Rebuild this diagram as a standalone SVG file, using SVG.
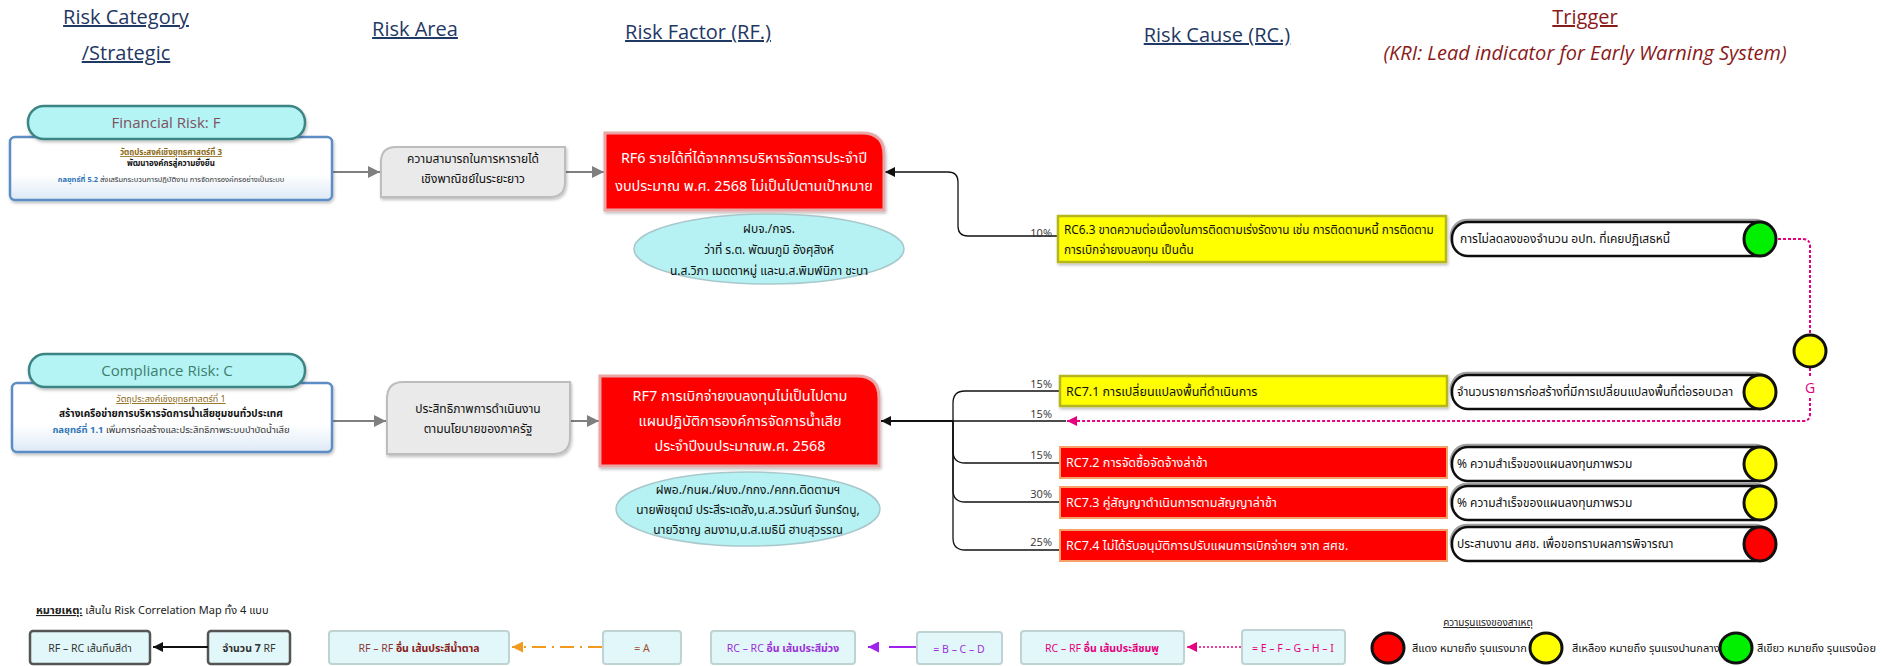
<svg xmlns="http://www.w3.org/2000/svg" width="1885" height="666" viewBox="0 0 1885 666">
<defs>
<style>
.hdr{font-family:'Open Sans','Noto Sans',sans-serif;font-size:20px;fill:#1F3864;text-decoration:underline;text-anchor:middle}
.th{font-family:'Noto Sans Thai',Tahoma,'Noto Sans','DejaVu Sans',sans-serif}
.pill{fill:#B4F4F4;stroke:#3E8585;stroke-width:2.5}
.cbox{fill:url(#cg);stroke:#5B8DC4;stroke-width:2.5}
.area{fill:#EAEAEA;stroke:#BDBDBD;stroke-width:2}
.rf{fill:#FF0000;stroke:#E9A6A6;stroke-width:3}
.ell{fill:#B6F1F3;stroke:#A8C8CC;stroke-width:1.5}
.rcy{fill:#FFFF00;stroke:#B5B51E;stroke-width:2.5}
.rcr{fill:#FF0000;stroke:#F4A26A;stroke-width:2}
.trg{fill:#FFFFFF;stroke:#111;stroke-width:2.5}
.dot{stroke:#111;stroke-width:3}
.lg{fill:#E2F7F9;stroke:#BFD3D3;stroke-width:2}
.lgd{fill:#E2F7F9;stroke:#555;stroke-width:2.5}
.con{fill:none;stroke:#111;stroke-width:1.3}
.gar{fill:none;stroke:#7F7F7F;stroke-width:2}
.pct{font-family:'Open Sans','Noto Sans',sans-serif;font-size:11px;fill:#333;text-anchor:end}
.wt{fill:#FFFFFF;font-size:14.4px;text-anchor:middle}
.rct{font-size:11.8px;fill:#111}
.rcw{font-size:12.6px;fill:#FFFFFF}
.tt{font-size:12px;fill:#111}
.ct{font-size:12px;fill:#111;text-anchor:middle}
</style>
<linearGradient id="cg" x1="0" y1="0" x2="0" y2="1"><stop offset="0.6" stop-color="#FFFFFF"/><stop offset="1" stop-color="#DDE9F6"/></linearGradient>
<marker id="ab" viewBox="0 0 10 10" refX="10" refY="5" markerWidth="10" markerHeight="10" markerUnits="userSpaceOnUse" orient="auto"><path d="M0,0 L10,5 L0,10 Z" fill="#111"/></marker>
<marker id="ag" viewBox="0 0 10 10" refX="10" refY="5" markerWidth="12" markerHeight="12" markerUnits="userSpaceOnUse" orient="auto"><path d="M0,0 L10,5 L0,10 Z" fill="#7F7F7F"/></marker>
<marker id="ap" viewBox="0 0 10 10" refX="10" refY="5" markerWidth="10" markerHeight="10" markerUnits="userSpaceOnUse" orient="auto"><path d="M0,0 L10,5 L0,10 Z" fill="#E6007E"/></marker>
<marker id="ao" viewBox="0 0 10 10" refX="10" refY="5" markerWidth="11" markerHeight="11" markerUnits="userSpaceOnUse" orient="auto"><path d="M0,0 L10,5 L0,10 Z" fill="#F09A1E"/></marker>
<marker id="av" viewBox="0 0 10 10" refX="10" refY="5" markerWidth="11" markerHeight="11" markerUnits="userSpaceOnUse" orient="auto"><path d="M0,0 L10,5 L0,10 Z" fill="#A020F0"/></marker>
<filter id="sh" x="-10%" y="-20%" width="120%" height="150%"><feDropShadow dx="1" dy="2" stdDeviation="1.5" flood-color="#000" flood-opacity="0.25"/></filter>
<filter id="ts" x="-5%" y="-20%" width="110%" height="140%"><feDropShadow dx="-1" dy="-2" stdDeviation="0.6" flood-color="#777" flood-opacity="0.7"/></filter>
</defs>
<rect width="1885" height="666" fill="#FFFFFF"/>

<g id="headers">
<text class="hdr" x="126" y="24">Risk Category</text>
<text class="hdr" x="126" y="60">/Strategic</text>
<text class="hdr" x="415" y="36">Risk Area</text>
<text class="hdr" x="698" y="39">Risk Factor (RF.)</text>
<text class="hdr" x="1217" y="42">Risk Cause (RC.)</text>
<text class="hdr" x="1585" y="24" style="fill:#8B1A1A">Trigger</text>
<text x="1585" y="60" style="font-family:'Open Sans','Noto Sans',sans-serif;font-size:20px;font-style:italic;fill:#8B1A1A;text-anchor:middle">(KRI: Lead indicator for Early Warning System)</text>
</g>

<g id="connectors">
<line class="gar" x1="332" y1="172" x2="380" y2="172" marker-end="url(#ag)"/>
<line class="gar" x1="566" y1="172" x2="604" y2="172" marker-end="url(#ag)"/>
<line class="gar" x1="332" y1="421" x2="386" y2="421" marker-end="url(#ag)"/>
<line class="gar" x1="571" y1="421" x2="599" y2="421" marker-end="url(#ag)"/>
<path class="con" d="M1058,236 H968 Q958,236 958,226 V182 Q958,172 948,172 H885" marker-end="url(#ab)"/>
<path class="con" d="M953,421 H881" marker-end="url(#ab)" style="stroke-width:1.8"/>
<path class="con" d="M1060,391 H965 Q953,391 953,403 V421"/>
<path class="con" d="M1066,421 H953"/>
<path class="con" d="M953,421 V451 Q953,463 965,463 H1060"/>
<path class="con" d="M953,421 V490 Q953,502 965,502 H1060"/>
<path class="con" d="M953,421 V538 Q953,550 965,550 H1060"/>
<text class="pct" x="1052" y="237">10%</text>
<text class="pct" x="1052" y="388">15%</text>
<text class="pct" x="1052" y="418">15%</text>
<text class="pct" x="1052" y="459">15%</text>
<text class="pct" x="1052" y="498">30%</text>
<text class="pct" x="1052" y="546">25%</text>
<g fill="none" stroke="#E6007E" stroke-width="2" stroke-dasharray="3 2">
<path d="M1778,239 H1803 Q1810,239 1810,246 V334"/>
<path d="M1810,368 V377"/>
<path d="M1810,398 V414 Q1810,421 1803,421 H1067" marker-end="url(#ap)"/>
</g>
<ellipse class="dot" cx="1810" cy="351" rx="16" ry="16" fill="#FFFF00"/>
<text x="1810" y="393" style="font-family:'Open Sans','Noto Sans',sans-serif;font-size:14px;fill:#E6007E;text-anchor:middle">G</text>
</g>

<g id="cat-financial">
<rect class="cbox" x="10" y="137" width="322" height="63" rx="5" filter="url(#sh)"/>
<rect class="pill" x="28" y="106" width="277" height="33" rx="16" filter="url(#sh)"/>
<text x="166" y="128" style="font-family:'Open Sans','Noto Sans',sans-serif;font-size:15px;fill:#7E5060;text-anchor:middle">Financial Risk: F</text>
<text class="th" x="171" y="155" style="font-size:8px;fill:#8B6914;text-anchor:middle;text-decoration:underline;font-weight:bold">วัตถุประสงค์เชิงยุทธศาสตร์ที่ 3</text>
<text class="th" x="171" y="166" style="font-size:8px;fill:#111;text-anchor:middle;font-weight:bold">พัฒนาองค์กรสู่ความยั่งยืน</text>
<text class="th" x="171" y="182" style="font-size:7.5px;fill:#333;text-anchor:middle"><tspan fill="#2E75B6" font-weight="bold">กลยุทธ์ที่ 5.2</tspan> ส่งเสริมกระบวนการปฏิบัติงาน การจัดการองค์กรอย่างเป็นระบบ</text>
</g>

<g id="cat-compliance">
<rect class="cbox" x="12" y="383" width="320" height="69" rx="5" filter="url(#sh)"/>
<rect class="pill" x="29" y="354" width="276" height="33" rx="16" filter="url(#sh)"/>
<text x="167" y="376" style="font-family:'Open Sans','Noto Sans',sans-serif;font-size:15px;fill:#3E7E6E;text-anchor:middle">Compliance Risk: C</text>
<text class="th" x="171" y="402" style="font-size:9px;fill:#8B6914;text-anchor:middle;text-decoration:underline">วัตถุประสงค์เชิงยุทธศาสตร์ที่ 1</text>
<text class="th" x="171" y="417" style="font-size:10px;fill:#111;text-anchor:middle;font-weight:bold">สร้างเครือข่ายการบริหารจัดการน้ำเสียชุมชนทั่วประเทศ</text>
<text class="th" x="171" y="433" style="font-size:9.5px;fill:#333;text-anchor:middle"><tspan fill="#2E75B6" font-weight="bold">กลยุทธ์ที่ 1.1</tspan> เพิ่มการก่อสร้างและประสิทธิภาพระบบบำบัดน้ำเสีย</text>
</g>

<g id="area-1">
<path class="area" d="M396,147 H565 V182 Q565,197 550,197 H381 V162 Q381,147 396,147 Z" filter="url(#sh)"/>
<text class="th ct" x="473" y="163">ความสามารถในการหารายได้</text>
<text class="th ct" x="473" y="183">เชิงพาณิชย์ในระยะยาว</text>
</g>

<g id="area-2">
<path class="area" d="M403,382 H570 V437 Q570,454 553,454 H387 V399 Q387,382 403,382 Z" filter="url(#sh)"/>
<text class="th ct" x="478" y="413">ประสิทธิภาพการดำเนินงาน</text>
<text class="th ct" x="478" y="433">ตามนโยบายของภาครัฐ</text>
</g>

<g id="rf6">
<path class="rf" d="M605,133 H862 Q884,133 884,155 V210 H605 Z" filter="url(#sh)"/>
<text class="th wt" x="744" y="163">RF6 รายได้ที่ได้จากการบริหารจัดการประจำปี</text>
<text class="th wt" x="744" y="191">งบประมาณ พ.ศ. 2568 ไม่เป็นไปตามเป้าหมาย</text>
</g>

<g id="rf6-owner">
<ellipse class="ell" cx="769" cy="249" rx="135" ry="35"/>
<text class="th ct" x="769" y="233">ฝบจ./กจร.</text>
<text class="th ct" x="769" y="254">ว่าที่ ร.ต. พัฒนภูมิ อังศุสิงห์</text>
<text class="th ct" x="769" y="275">น.ส.วิภา เมตตาหมู่ และน.ส.พิมพ์นิภา ชะบา</text>
</g>

<g id="rf7">
<path class="rf" d="M600,376 H857 Q879,376 879,398 V466 H600 Z" filter="url(#sh)"/>
<text class="th wt" x="740" y="401">RF7 การเบิกจ่ายงบลงทุนไม่เป็นไปตาม</text>
<text class="th wt" x="740" y="426">แผนปฏิบัติการองค์การจัดการน้ำเสีย</text>
<text class="th wt" x="740" y="451">ประจำปีงบประมาณพ.ศ. 2568</text>
</g>

<g id="rf7-owner">
<ellipse class="ell" cx="748" cy="509" rx="132" ry="37"/>
<text class="th ct" x="748" y="494">ฝพอ./กนผ./ฝบง./กกง./คกก.ติดตามฯ</text>
<text class="th ct" x="748" y="514">นายพิชยุตม์ ประสีระเตสัง,น.ส.วรนันท์ จันทร์ดนู,</text>
<text class="th ct" x="748" y="534">นายวิชาญ ลมงาม,น.ส.เมธินี ฮาบสุวรรณ</text>
</g>

<g id="rc6-3">
<rect class="rcy" x="1058" y="216" width="388" height="46" filter="url(#sh)"/>
<text class="th rct" x="1064" y="234">RC6.3 ขาดความต่อเนื่องในการติดตามเร่งรัดงาน เช่น การติดตามหนี้ การติดตาม</text>
<text class="th rct" x="1064" y="254">การเบิกจ่ายงบลงทุน เป็นต้น</text>
</g>
<g id="rc7-1">
<rect class="rcy" x="1060" y="376" width="387" height="30" filter="url(#sh)"/>
<text class="th" x="1066" y="396" style="font-size:12.5px;fill:#111">RC7.1 การเปลี่ยนแปลงพื้นที่ดำเนินการ</text>
</g>
<g id="rc7-2">
<rect class="rcr" x="1060" y="447" width="387" height="31"/>
<text class="th rcw" x="1066" y="467">RC7.2 การจัดซื้อจัดจ้างล่าช้า</text>
</g>
<g id="rc7-3">
<rect class="rcr" x="1060" y="487" width="387" height="31"/>
<text class="th rcw" x="1066" y="507">RC7.3 คู่สัญญาดำเนินการตามสัญญาล่าช้า</text>
</g>
<g id="rc7-4">
<rect class="rcr" x="1060" y="530" width="387" height="31"/>
<text class="th rcw" x="1066" y="550">RC7.4 ไม่ได้รับอนุมัติการปรับแผนการเบิกจ่ายฯ จาก สศช.</text>
</g>

<g id="trigger-1">
<rect class="trg" x="1452" y="222" width="320" height="34" rx="16" filter="url(#ts)"/>
<text class="th tt" x="1460" y="243">การไม่ลดลงของจำนวน อปท. ที่เคยปฏิเสธหนี้</text>
<ellipse class="dot" cx="1760" cy="239" rx="16" ry="17" fill="#00F000"/>
</g>
<g id="trigger-2">
<rect class="trg" x="1452" y="375" width="320" height="34" rx="16" filter="url(#ts)"/>
<text class="th tt" x="1457" y="396">จำนวนรายการก่อสร้างที่มีการเปลี่ยนแปลงพื้นที่ต่อรอบเวลา</text>
<ellipse class="dot" cx="1760" cy="392" rx="16" ry="17" fill="#FFFF00"/>
</g>
<g id="trigger-3">
<rect class="trg" x="1452" y="447" width="320" height="34" rx="16" filter="url(#ts)"/>
<text class="th tt" x="1457" y="468">% ความสำเร็จของแผนลงทุนภาพรวม</text>
<ellipse class="dot" cx="1760" cy="464" rx="16" ry="17" fill="#FFFF00"/>
</g>
<g id="trigger-4">
<rect class="trg" x="1452" y="486" width="320" height="34" rx="16" filter="url(#ts)"/>
<text class="th tt" x="1457" y="507">% ความสำเร็จของแผนลงทุนภาพรวม</text>
<ellipse class="dot" cx="1760" cy="503" rx="16" ry="17" fill="#FFFF00"/>
</g>
<g id="trigger-5">
<rect class="trg" x="1452" y="527" width="320" height="34" rx="16" filter="url(#ts)"/>
<text class="th tt" x="1457" y="548">ประสานงาน สศช. เพื่อขอทราบผลการพิจารณา</text>
<ellipse class="dot" cx="1760" cy="544" rx="16" ry="17" fill="#FF0000"/>
</g>

<g id="legend">
<text class="th" x="36" y="614" style="font-size:11px;fill:#222"><tspan style="text-decoration:underline;font-weight:bold">หมายเหตุ:</tspan> เส้นใน Risk Correlation Map ทั้ง 4 แบบ</text>
<rect class="lgd" x="30" y="631" width="120" height="33" rx="3"/>
<text class="th" x="90" y="652" style="font-size:10.5px;fill:#333;text-anchor:middle">RF – RC เส้นทึบสีดำ</text>
<rect class="lgd" x="208" y="631" width="82" height="33" rx="3"/>
<text class="th" x="249" y="652" style="font-size:10.5px;fill:#333;text-anchor:middle"><tspan font-weight="bold">จำนวน 7</tspan> RF</text>
<line x1="208" y1="647" x2="153" y2="647" stroke="#111" stroke-width="2" marker-end="url(#ab)"/>
<rect class="lg" x="329" y="631" width="180" height="33" rx="3"/>
<text class="th" x="419" y="652" style="font-size:10.5px;fill:#8B3A3A;text-anchor:middle">RF – RF <tspan font-weight="bold" fill="#8B1A1A">อื่น เส้นประสีน้ำตาล</tspan></text>
<line x1="602" y1="647" x2="512" y2="647" stroke="#F09A1E" stroke-width="2" stroke-dasharray="14 6 2 6" marker-end="url(#ao)"/>
<rect class="lg" x="603" y="631" width="78" height="33" rx="3"/>
<text class="th" x="642" y="652" style="font-size:10.5px;fill:#A0522D;text-anchor:middle">= A</text>
<rect class="lg" x="711" y="631" width="144" height="33" rx="3"/>
<text class="th" x="783" y="652" style="font-size:10.5px;fill:#9B30D9;text-anchor:middle">RC – RC <tspan font-weight="bold">อื่น เส้นประสีม่วง</tspan></text>
<line x1="917" y1="647" x2="868" y2="647" stroke="#A020F0" stroke-width="2" stroke-dasharray="28 14" marker-end="url(#av)"/>
<rect class="lg" x="917" y="632" width="85" height="32" rx="3"/>
<text class="th" x="959" y="653" style="font-size:10.5px;fill:#9B30D9;text-anchor:middle">= B – C – D</text>
<rect class="lg" x="1021" y="631" width="163" height="33" rx="3"/>
<text class="th" x="1102" y="652" style="font-size:10.5px;fill:#E6007E;text-anchor:middle">RC – RF <tspan font-weight="bold">อื่น เส้นประสีชมพู</tspan></text>
<line x1="1241" y1="647" x2="1187" y2="647" stroke="#E6007E" stroke-width="1.5" stroke-dasharray="2 2" marker-end="url(#ap)"/>
<rect class="lg" x="1242" y="630" width="103" height="34" rx="3"/>
<text class="th" x="1293" y="652" style="font-size:10.5px;fill:#E6007E;text-anchor:middle">= E – F – G – H – I</text>
</g>

<g id="severity-legend">
<text class="th" x="1488" y="626" style="font-size:10px;fill:#222;text-anchor:middle;text-decoration:underline">ความรุนแรงของสาเหตุ</text>
<ellipse class="dot" cx="1388" cy="648" rx="16" ry="15" fill="#FF0000"/>
<text class="th" x="1412" y="652" style="font-size:11px;fill:#111">สีแดง  หมายถึง รุนแรงมาก</text>
<ellipse class="dot" cx="1546" cy="648" rx="16" ry="15" fill="#FFFF00"/>
<text class="th" x="1572" y="652" style="font-size:11px;fill:#111">สีเหลือง หมายถึง รุนแรงปานกลาง</text>
<ellipse class="dot" cx="1736" cy="648" rx="16" ry="15" fill="#00F000"/>
<text class="th" x="1757" y="652" style="font-size:11px;fill:#111">สีเขียว หมายถึง รุนแรงน้อย</text>
</g>
</svg>
